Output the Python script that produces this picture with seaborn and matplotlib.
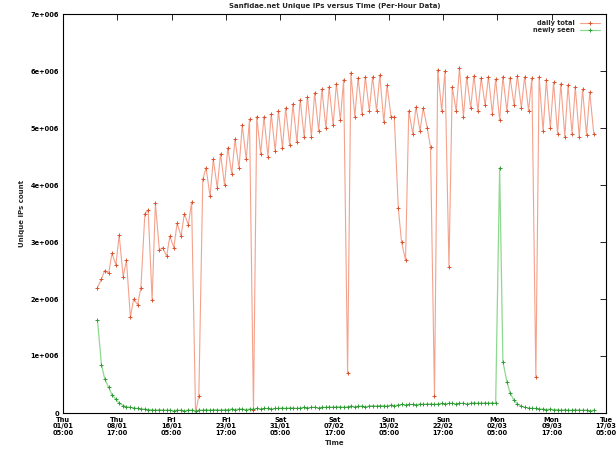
import numpy as np
import pandas as pd
import matplotlib
matplotlib.use("Agg")
import matplotlib.pyplot as plt
import seaborn as sns

# ---------------- data (millions of unique IPs) ----------------
title = "Sanfidae.net Unique IPs versus Time (Per-Hour Data)"
series_names = ["daily total", "newly seen"]

# daily maxima / minima of the "daily total" series, one value per day
total_peaks = [2.2, 2.5, 2.8, 3.12, 2.68, 2.0, 2.2, 3.56, 3.68, 2.9,
               3.1, 3.33, 3.5, 3.7, 0.3, 4.3, 4.45, 4.55, 4.65, 4.8,
               5.05, 5.15, 5.2, 5.2, 5.25, 5.3, 5.35, 5.42, 5.5, 5.55,
               5.62, 5.68, 5.72, 5.78, 5.85, 5.97, 5.88, 5.9, 5.9, 5.93,
               5.75, 5.19, 3.0, 5.3, 5.37, 5.35, 4.67, 6.02, 6.0, 5.72,
               6.05, 5.9, 5.92, 5.88, 5.9, 5.86, 5.9, 5.88, 5.92, 5.9,
               5.88, 5.9, 5.84, 5.8, 5.78, 5.75, 5.72, 5.68, 5.63]
total_troughs = [2.35, 2.45, 2.6, 2.39, 1.68, 1.9, 3.5, 1.98, 2.86, 2.75,
                 2.9, 3.1, 3.3, 0.0, 4.1, 3.8, 3.95, 4.0, 4.2, 4.3,
                 4.45, 0.05, 4.55, 4.5, 4.6, 4.65, 4.7, 4.75, 4.84, 4.85,
                 4.95, 5.0, 5.05, 5.14, 0.7, 5.2, 5.25, 5.3, 5.3, 5.1,
                 5.2, 3.6, 2.68, 4.9, 4.95, 5.0, 0.3, 5.3, 2.56, 5.3,
                 5.2, 5.35, 5.3, 5.4, 5.25, 5.14, 5.3, 5.4, 5.35, 5.3,
                 0.63, 4.95, 5.0, 4.9, 4.85, 4.9, 4.84, 4.88, 4.9]

# "newly seen" series, same half-day sampling as above
new_values = [1.63, 0.85, 0.6, 0.45, 0.32, 0.24, 0.17, 0.13, 0.11, 0.1,
              0.09, 0.08, 0.07, 0.07, 0.06, 0.06, 0.05, 0.06, 0.05, 0.05,
              0.05, 0.04, 0.05, 0.05, 0.04, 0.05, 0.05, 0.04, 0.05, 0.05,
              0.06, 0.05, 0.06, 0.06, 0.05, 0.06, 0.06, 0.07, 0.06, 0.07,
              0.07, 0.06, 0.07, 0.07, 0.08, 0.07, 0.08, 0.08, 0.07, 0.08,
              0.08, 0.09, 0.08, 0.09, 0.09, 0.08, 0.09, 0.1, 0.09, 0.1,
              0.1, 0.09, 0.1, 0.1, 0.11, 0.1, 0.11, 0.11, 0.1, 0.11,
              0.12, 0.11, 0.12, 0.12, 0.11, 0.12, 0.13, 0.12, 0.13, 0.13,
              0.12, 0.14, 0.13, 0.14, 0.15, 0.14, 0.15, 0.15, 0.14, 0.16,
              0.15, 0.16, 0.16, 0.15, 0.16, 0.17, 0.16, 0.17, 0.17, 0.16,
              0.17, 0.17, 0.16, 0.17, 0.18, 0.17, 0.17, 0.18, 0.17, 0.18,
              0.17, 4.3, 0.9, 0.55, 0.35, 0.22, 0.16, 0.12, 0.1, 0.09,
              0.08, 0.08, 0.07, 0.07, 0.06, 0.07, 0.06, 0.06, 0.05, 0.06,
              0.05, 0.05, 0.06, 0.05, 0.05, 0.05, 0.04, 0.05]

xtick_labels = ["Thu\n01/01\n05:00", "Thu\n08/01\n17:00", "Fri\n16/01\n05:00",
                "Fri\n23/01\n17:00", "Sat\n31/01\n05:00", "Sat\n07/02\n17:00",
                "Sun\n15/02\n05:00", "Sun\n22/02\n17:00", "Mon\n02/03\n05:00",
                "Mon\n09/03\n17:00", "Tue\n17/03\n05:00"]
ytick_labels = ["0", "1e+006", "2e+006", "3e+006", "4e+006",
                "5e+006", "6e+006", "7e+006"]

# ---------------- build frames ----------------
day_start = 4.76
half = 0.55
idx = np.arange(len(total_peaks))
days = np.empty(2 * len(idx))
days[0::2] = day_start + idx
days[1::2] = day_start + idx + half
tot = np.empty(2 * len(idx))
tot[0::2] = total_peaks
tot[1::2] = total_troughs

df_total = pd.DataFrame({"day": days, "ips": tot * 1e6})
df_new = pd.DataFrame({"day": days[:len(new_values)], "ips": np.array(new_values) * 1e6})

# ---------------- plot ----------------
sns.set_style("white")
plt.rcParams["font.family"] = ["DejaVu Sans"]
fig = plt.figure(figsize=(6.16, 4.63), dpi=100)
ax = fig.add_axes([63 / 616, 50 / 463, 543 / 616, 399 / 463])

sns.lineplot(data=df_total, x="day", y="ips", ax=ax, color="#f4a28c",
             lw=0.8, marker="+", markersize=3, markeredgecolor="#d9532e",
             markeredgewidth=0.7, label=series_names[0], estimator=None)
sns.lineplot(data=df_new, x="day", y="ips", ax=ax, color="#8fd88f",
             lw=0.9, marker="+", markersize=3, markeredgecolor="#2f9a35",
             markeredgewidth=0.7, label=series_names[1], estimator=None)

ax.set_xlim(0, 75)
ax.set_ylim(0, 7e6)
ax.set_xticks(np.arange(len(xtick_labels)) * 7.5)
ax.set_xticklabels(xtick_labels, fontsize=4.8, fontweight="bold", linespacing=1.05)
ax.set_yticks(np.arange(len(ytick_labels)) * 1e6)
ax.set_yticklabels(ytick_labels, fontsize=4.8, fontweight="bold")
ax.tick_params(direction="in", length=4, width=0.6, top=True, right=True,
               pad=3, colors="black")
ax.tick_params(axis="x", labeltop=False)
ax.tick_params(axis="y", labelright=False)

for s in ax.spines.values():
    s.set_visible(True)
    s.set_color("black")
    s.set_linewidth(0.8)

ax.set_xlabel("Time", fontsize=5, fontweight="bold", labelpad=3)
ax.set_ylabel("Unique IPs count", fontsize=5, fontweight="bold", labelpad=4)
ax.set_title(title, fontsize=5, fontweight="bold", pad=4)

leg = ax.legend(loc="upper right", frameon=False, markerfirst=False,
                prop={"size": 4.8, "weight": "bold"}, handlelength=3,
                borderaxespad=0.5, labelspacing=0.2)

fig.savefig("out.png", dpi=100)
